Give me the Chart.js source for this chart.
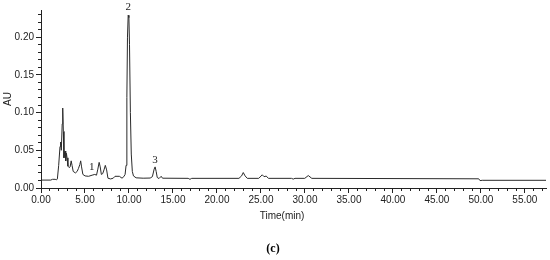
<!DOCTYPE html>
<html>
<head>
<meta charset="utf-8">
<script src="https://cdn.jsdelivr.net/npm/chart.js@4.4.1/dist/chart.umd.min.js"></script>
<style>
  html, body { margin: 0; padding: 0; background: #fff; }
</style>
</head>
<body>
<canvas id="chart1c" width="550" height="260"></canvas>
<script>
// HPLC chromatogram (c), absorbance vs retention time
const times = [
  0.0, 1.11, 1.31, 1.61, 1.76, 1.86, 2.01, 2.16, 2.23, 2.31, 2.41, 2.47, 2.54, 2.61, 2.66, 2.73, 2.81, 2.89, 2.96, 3.06,
  3.21, 3.31, 3.43, 3.53, 3.66, 3.91, 4.11, 4.26, 4.41, 4.51, 4.61, 4.76, 5.01, 5.41, 5.81, 6.11, 6.31, 6.46, 6.61, 6.73,
  6.86, 7.01, 7.16, 7.31, 7.46, 7.61, 7.91, 8.21, 8.41, 8.91, 9.21, 9.41, 9.56, 9.67, 9.76, 9.83, 9.91, 9.99, 10.06, 10.16,
  10.26, 10.38, 10.51, 10.81, 11.61, 12.41, 12.66, 12.86, 12.97, 13.09, 13.21, 13.41, 13.66, 13.81, 16.73, 16.93, 17.13, 22.5, 22.8, 22.99,
  23.2, 23.45, 24.75, 25.15, 25.35, 25.6, 25.85, 28.47, 28.67, 28.87, 29.98, 30.38, 30.78, 49.75, 49.9, 50.15, 57.4
];
const absorbance = [
  0.0105, 0.0105, 0.0115, 0.0115, 0.0108, 0.012, 0.030, 0.055, 0.061, 0.050, 0.085, 0.106, 0.075, 0.040, 0.045, 0.049, 0.036, 0.046, 0.040, 0.029,
  0.027, 0.028, 0.036, 0.030, 0.022, 0.020, 0.022, 0.026, 0.031, 0.036, 0.028, 0.018, 0.016, 0.0155, 0.017, 0.018, 0.017, 0.025, 0.034, 0.028,
  0.018, 0.019, 0.024, 0.030, 0.024, 0.013, 0.012, 0.013, 0.0155, 0.0155, 0.013, 0.015, 0.018, 0.030, 0.120, 0.200, 0.229, 0.226, 0.190, 0.100,
  0.045, 0.022, 0.016, 0.0135, 0.013, 0.0132, 0.015, 0.025, 0.028, 0.022, 0.014, 0.0125, 0.0155, 0.013, 0.0128, 0.0115, 0.0128, 0.0128, 0.016, 0.0205,
  0.016, 0.0128, 0.0128, 0.0175, 0.015, 0.0158, 0.0128, 0.0128, 0.0118, 0.0128, 0.0128, 0.0165, 0.0128, 0.0122, 0.0098, 0.0102, 0.0102
];

// peak numbers written above the peaks
const peakLabels = ['1', '2', '3'];
const peakLabelTimes = [5.76, 9.92, 12.95];
const peakLabelValues = [0.0272, 0.2404, 0.0371];

const xMax = 57.4;
const yMax = 0.236;
const xTitle = 'Time(min)';
const xTitleAt = 27.4; // the title sits a bit left of the axis middle

const tickFont = { family: 'Liberation Sans, Arial, sans-serif', size: 10 };

const peakLabelPlugin = {
  id: 'peakLabels',
  afterDatasetsDraw(chart) {
    const ctx = chart.ctx;
    const x = chart.scales.x, y = chart.scales.y;
    ctx.save();
    ctx.font = '11px "Liberation Serif", "Times New Roman", serif';
    ctx.fillStyle = '#222';
    ctx.textAlign = 'center';
    ctx.textBaseline = 'middle';
    peakLabels.forEach((lab, i) => {
      ctx.fillText(lab, x.getPixelForValue(peakLabelTimes[i]), y.getPixelForValue(peakLabelValues[i]));
    });
    // x axis title
    ctx.font = '10px "Liberation Sans", Arial, sans-serif';
    ctx.fillText(xTitle, x.getPixelForValue(xTitleAt), x.top + 28.5);
    ctx.restore();
  }
};

new Chart(document.getElementById('chart1c'), {
  type: 'line',
  data: {
    datasets: [{
      label: 'AU',
      data: times.map((t, i) => ({ x: t, y: absorbance[i] })),
      borderColor: '#2a2a2a',
      borderWidth: 1,
      pointRadius: 0,
      tension: 0,
      fill: false,
      xAxisID: 'x',
      yAxisID: 'y'
    }]
  },
  options: {
    responsive: false,
    animation: false,
    devicePixelRatio: 1,
    layout: { padding: { left: 0, right: 4, top: 10, bottom: 3.8 } },
    plugins: {
      legend: { display: false },
      tooltip: { enabled: false },
      title: {
        display: true,
        position: 'bottom',
        text: '(c)',
        color: '#000',
        padding: 0,
        font: { family: 'Liberation Serif, Times New Roman, serif', size: 12, weight: 'bold' }
      }
    },
    scales: {
      xm: {
        type: 'linear', position: 'bottom', weight: 0,
        min: 0, max: xMax,
        ticks: { stepSize: 1, display: false, includeBounds: false },
        grid: { drawOnChartArea: false, drawTicks: true, tickLength: 3, tickColor: '#222' },
        border: { display: false },
        afterFit(s) { s.height = 0; }
      },
      x: {
        type: 'linear', position: 'bottom', weight: 1,
        min: 0, max: xMax,
        ticks: {
          stepSize: 5, includeBounds: false, padding: 1, maxRotation: 0, autoSkip: false,
          color: '#222', font: tickFont,
          callback: v => v.toFixed(2)
        },
        grid: { drawOnChartArea: false, drawTicks: true, tickLength: 5, tickColor: '#222' },
        border: { display: true, color: '#222', width: 1 },
        afterFit(s) { s.height = 53.8; }
      },
      ym: {
        type: 'linear', position: 'left', weight: 0,
        min: 0, max: yMax,
        ticks: { stepSize: 0.01, display: false, includeBounds: false },
        grid: { drawOnChartArea: false, drawTicks: true, tickLength: 3, tickColor: '#222' },
        border: { display: false },
        afterFit(s) { s.width = 0; }
      },
      y: {
        type: 'linear', position: 'left', weight: 1,
        min: 0, max: yMax,
        ticks: {
          stepSize: 0.05, includeBounds: false, padding: 2,
          color: '#222', font: tickFont,
          callback: v => v.toFixed(2)
        },
        grid: { drawOnChartArea: false, drawTicks: true, tickLength: 5, tickColor: '#222' },
        border: { display: true, color: '#222', width: 1 },
        title: {
          display: true, text: 'AU', color: '#222', font: tickFont,
          padding: { top: 2, bottom: 0 }
        },
        afterFit(s) { s.width = 41; }
      }
    }
  },
  plugins: [peakLabelPlugin]
});
</script>
</body>
</html>
